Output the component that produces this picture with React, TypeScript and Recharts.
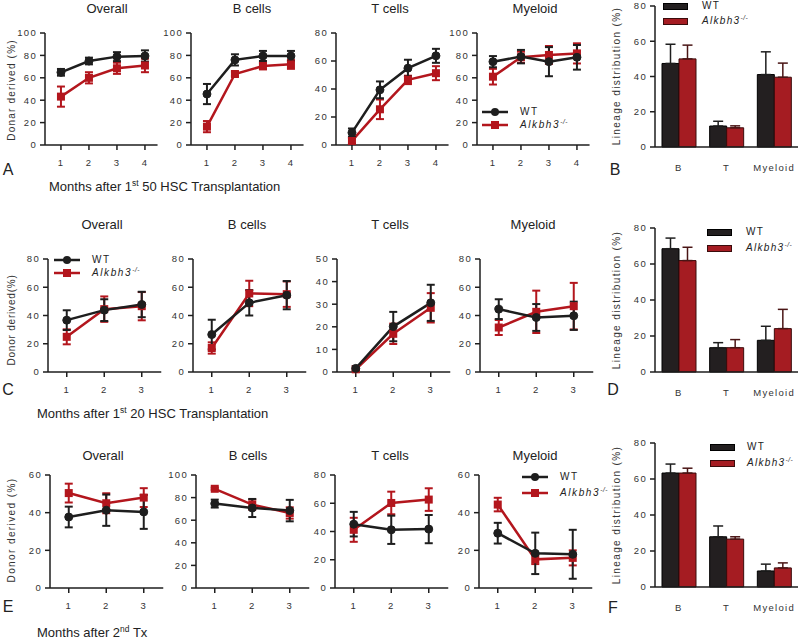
import React from 'react';
import { LineChart, Line, XAxis, YAxis, ErrorBar, BarChart, Bar } from 'recharts';

const BLACK = '#1e1e1e';
const RED = '#b3161d';
const BAR_BLACK = '#231f20';
const BAR_RED = '#a51c22';
const FONT = '"Liberation Sans", Arial, Helvetica, sans-serif';

// x categories
const months4 = [1, 2, 3, 4];
const months3 = [1, 2, 3];
const lineages = ['B', 'T', 'Myeloid'];

// ---- A: months after 1st 50 HSC transplantation ----
const aOverallWT = [64.9, 75, 78.9, 79.5];
const aOverallWTErr = [3, 3, 4, 5];
const aOverallKO = [43.2, 60, 68.5, 71];
const aOverallKOErr = [9, 5, 5, 6];
const aBWT = [45.5, 76, 79.5, 79.5];
const aBWTErr = [9, 5, 4.5, 4.5];
const aBKO = [16.4, 63.4, 70.5, 72];
const aBKOErr = [5, 2, 3, 4];
const aTWT = [8.8, 39.4, 54.9, 63.7];
const aTWTErr = [3, 6, 6, 5];
const aTKO = [2.9, 25.5, 46.5, 51.3];
const aTKOErr = [2, 7, 3, 5];
const aMyWT = [74.4, 78.9, 74.4, 78.3];
const aMyWTErr = [5, 6, 13, 11];
const aMyKO = [61, 78.3, 80.4, 81.8];
const aMyKOErr = [7, 5, 8, 9];
// ---- B: lineage distribution ----
const bWT = [47.4, 11.9, 41.1];
const bWTErr = [10.9, 2.7, 12.9];
const bKO = [50, 10.9, 39.6];
const bKOErr = [7.8, 1.1, 8];

// ---- C: months after 1st 20 HSC transplantation ----
const cOverallWT = [36.7, 43.8, 47.8];
const cOverallWTErr = [7, 7.7, 9];
const cOverallKO = [24.9, 44.5, 46.6];
const cOverallKOErr = [5.3, 9, 10];
const cBWT = [26.5, 49, 54.4];
const cBWTErr = [10.5, 9, 10];
const cBKO = [17, 55.6, 55.1];
const cBKOErr = [4, 9, 9];
const cTWT = [1.6, 20.1, 30.6];
const cTWTErr = [1, 6.5, 8];
const cTKO = [1.2, 16.9, 28.4];
const cTKOErr = [0.5, 4.5, 6.5];
const cMyWT = [44.5, 38.6, 39.8];
const cMyWTErr = [7, 9.5, 10];
const cMyKO = [31.5, 42.6, 46.6];
const cMyKOErr = [5.3, 15, 16.5];
// ---- D ----
const dWT = [68.5, 13.5, 17.6];
const dWTErr = [5.9, 2.8, 7.8];
const dKO = [61.9, 13.5, 24.1];
const dKOErr = [7.4, 4.5, 10.7];

// ---- E: months after 2nd Tx ----
const eOverallWT = [37.7, 41.3, 40.4];
const eOverallWTErr = [5.5, 8.3, 9];
const eOverallKO = [50.4, 45, 48];
const eOverallKOErr = [5, 5.3, 5];
const eBWT = [74.7, 70.8, 68.5];
const eBWTErr = [3.5, 8, 9.5];
const eBKO = [87.8, 73.8, 66.4];
const eBKOErr = [1, 4.5, 5];
const eTWT = [45.2, 41.2, 41.7];
const eTWTErr = [8.7, 10, 10];
const eTKO = [41.2, 60.2, 62.6];
const eTKOErr = [8.5, 8, 8];
const eMyWT = [29.1, 18.4, 17.9];
const eMyWTErr = [5.5, 11, 13];
const eMyKO = [44.3, 15.2, 16];
const eMyKOErr = [3.6, 2.5, 4];
// ---- F ----
const fWT = [63.3, 27.9, 8.9];
const fWTErr = [5, 6, 3.8];
const fKO = [63.3, 26.6, 10.6];
const fKOErr = [2.7, 1.3, 2.8];

// axis ticks
const ticks100 = [0, 20, 40, 60, 80, 100];
const ticks80 = [0, 20, 40, 60, 80];
const ticks60 = [0, 20, 40, 60];
const ticks50 = [0, 10, 20, 30, 40, 50];

const lineRows = (x: number[], wt: number[], wtE: number[], ko: number[], koE: number[]) =>
  x.map((m, i) => ({ m, wt: wt[i], wtE: wtE[i], ko: ko[i], koE: koE[i] }));
const barRows = (wt: number[], wtE: number[], ko: number[], koE: number[]) =>
  lineages.map((cat, i) => ({ cat, wt: wt[i], wtE: [0, wtE[i]], ko: ko[i], koE: [0, koE[i]] }));

const YW = 34;
const MT = 10;
const MR = 12;
const XH = 30;

const tickStyle = { fontSize: 9.5, fill: '#333', fontFamily: FONT };

function SquareDot(props: any) {
  const { cx, cy } = props;
  if (cx == null || cy == null) return null;
  return <rect x={cx - 4} y={cy - 4} width={8} height={8} fill={RED} />;
}

function LinePanel(p: {
  data: any[]; left: number; top: number; height: number; domain: [number, number]; pxPerUnit: number;
  xTicks: number[]; yMax: number; yTicks: number[];
}) {
  const width = (p.domain[1] - p.domain[0]) * p.pxPerUnit;
  return (
    <div style={{ position: 'absolute', left: p.left - YW, top: p.top - MT }}>
      <LineChart width={YW + width + MR} height={MT + p.height + XH} data={p.data}
        margin={{ top: MT, right: MR, bottom: 0, left: 0 }}>
        <XAxis dataKey="m" type="number" domain={p.domain} ticks={p.xTicks} interval={0} height={XH}
          tickSize={5} tickMargin={9} stroke={BLACK} strokeWidth={1.5} tick={tickStyle} />
        <YAxis type="number" domain={[0, p.yMax]} ticks={p.yTicks} interval={0} width={YW}
          tickSize={5} tickMargin={3} stroke={BLACK} strokeWidth={1.5} tick={tickStyle} />
        <Line dataKey="ko" stroke={RED} strokeWidth={2.5} isAnimationActive={false}
          dot={(d: any) => <SquareDot key={`k${d.index}`} cx={d.cx} cy={d.cy} />}>
          <ErrorBar dataKey="koE" width={4} strokeWidth={2} stroke={RED} />
        </Line>
        <Line dataKey="wt" stroke={BLACK} strokeWidth={2.5} isAnimationActive={false}
          dot={{ r: 4, fill: BLACK, stroke: BLACK, strokeWidth: 1 }}>
          <ErrorBar dataKey="wtE" width={4} strokeWidth={2} stroke={BLACK} />
        </Line>
      </LineChart>
    </div>
  );
}

function BarPanel(p: { data: any[]; left: number; top: number; width: number; height: number }) {
  return (
    <div style={{ position: 'absolute', left: p.left - YW, top: p.top - MT }}>
      <BarChart width={YW + p.width + 2} height={MT + p.height + XH} data={p.data}
        margin={{ top: MT, right: 2, bottom: 0, left: 0 }} barGap={0} barCategoryGap={7}>
        <XAxis dataKey="cat" height={XH} tickLine={false} tickMargin={11} stroke={BLACK} strokeWidth={1.5}
          tick={tickStyle} interval={0} />
        <YAxis type="number" domain={[0, 80]} ticks={ticks80} interval={0} width={YW}
          tickSize={5} tickMargin={3} stroke={BLACK} strokeWidth={1.5} tick={tickStyle} />
        <Bar dataKey="wt" fill={BAR_BLACK} stroke="#000" strokeWidth={1} isAnimationActive={false}>
          <ErrorBar dataKey="wtE" width={5} strokeWidth={1.5} stroke={BLACK} />
        </Bar>
        <Bar dataKey="ko" fill={BAR_RED} stroke="#3a0c0c" strokeWidth={1} isAnimationActive={false}>
          <ErrorBar dataKey="koE" width={5} strokeWidth={1.5} stroke="#4a1515" />
        </Bar>
      </BarChart>
    </div>
  );
}

function Txt(p: { x: number; y: number; size?: number; anchor?: 'start' | 'middle'; spacing?: number; children: any }) {
  const tx = p.anchor === 'start' ? '0' : '-50%';
  return (
    <div style={{
      position: 'absolute', left: p.x, top: p.y, transform: `translate(${tx}, -50%)`,
      fontSize: p.size ?? 13, lineHeight: 1, whiteSpace: 'nowrap', letterSpacing: p.spacing ?? 0, color: '#222',
    }}>{p.children}</div>
  );
}

function VTxt(p: { x: number; y: number; size?: number; spacing?: number; children: any }) {
  return (
    <div style={{
      position: 'absolute', left: p.x, top: p.y, transform: 'translate(-50%, -50%) rotate(-90deg)',
      fontSize: p.size ?? 10, lineHeight: 1, whiteSpace: 'nowrap', letterSpacing: p.spacing ?? 1, color: '#333',
    }}>{p.children}</div>
  );
}

const sup: React.CSSProperties = { fontSize: '0.65em', position: 'relative', top: '-0.55em' };

const KOName = () => (
  <span><i>Alkbh3</i><span style={{ fontSize: '0.65em', position: 'relative', top: '-0.6em', fontStyle: 'italic', letterSpacing: 0.6 }}>-/-</span></span>
);

function LineLegend(p: { x: number; y: number; gap: number; textX: number }) {
  return (
    <>
      <svg style={{ position: 'absolute', left: p.x, top: p.y - 6 }} width={26} height={12}>
        <line x1={0} y1={6} x2={26} y2={6} stroke={BLACK} strokeWidth={2.5} />
        <circle cx={13} cy={6} r={4} fill={BLACK} />
      </svg>
      <svg style={{ position: 'absolute', left: p.x, top: p.y + p.gap - 6 }} width={26} height={12}>
        <line x1={0} y1={6} x2={26} y2={6} stroke={RED} strokeWidth={2.5} />
        <rect x={9} y={2} width={8} height={8} fill={RED} />
      </svg>
      <Txt x={p.textX} y={p.y} size={10} anchor="start" spacing={1.6}>WT</Txt>
      <Txt x={p.textX} y={p.y + p.gap} size={10} anchor="start" spacing={1.6}><KOName /></Txt>
    </>
  );
}

function BarLegend(p: { x: number; y: number; gap: number; textX: number }) {
  return (
    <>
      <div style={{ position: 'absolute', left: p.x, top: p.y - 3.5, width: 25, height: 7, background: BAR_BLACK, border: '1px solid #000', boxSizing: 'border-box' }} />
      <div style={{ position: 'absolute', left: p.x, top: p.y + p.gap - 3.5, width: 25, height: 7, background: BAR_RED, border: '1px solid #3a0c0c', boxSizing: 'border-box' }} />
      <Txt x={p.textX} y={p.y} size={10} anchor="start" spacing={1.3}>WT</Txt>
      <Txt x={p.textX} y={p.y + p.gap} size={10} anchor="start" spacing={1.3}><KOName /></Txt>
    </>
  );
}

const D4: [number, number] = [0.43, 4.45];
const D3: [number, number] = [0.5, 3.52];

export default function App() {
  return (
    <div style={{ position: 'absolute', left: 0, top: 0, width: 800, height: 638, background: '#fff', fontFamily: FONT, overflow: 'hidden' }}>
      <style>{`.recharts-cartesian-axis-tick-value{letter-spacing:1.3px}`}</style>

      {/* Row A */}
      <Txt x={107} y={8}>Overall</Txt>
      <Txt x={252} y={8}>B cells</Txt>
      <Txt x={390} y={8}>T cells</Txt>
      <Txt x={535} y={8}>Myeloid</Txt>
      <VTxt x={12} y={90} size={10} spacing={1.2}>Donar derived (%)</VTxt>
      <LinePanel data={lineRows(months4, aOverallWT, aOverallWTErr, aOverallKO, aOverallKOErr)} left={45} top={33} height={112} domain={D4} pxPerUnit={28} xTicks={months4} yMax={100} yTicks={ticks100} />
      <LinePanel data={lineRows(months4, aBWT, aBWTErr, aBKO, aBKOErr)} left={191} top={33} height={112} domain={D4} pxPerUnit={28} xTicks={months4} yMax={100} yTicks={ticks100} />
      <LinePanel data={lineRows(months4, aTWT, aTWTErr, aTKO, aTKOErr)} left={336} top={33} height={112} domain={D4} pxPerUnit={28} xTicks={months4} yMax={80} yTicks={ticks80} />
      <LinePanel data={lineRows(months4, aMyWT, aMyWTErr, aMyKO, aMyKOErr)} left={477} top={33} height={112} domain={D4} pxPerUnit={28} xTicks={months4} yMax={100} yTicks={ticks100} />
      <LineLegend x={482} y={112} gap={13} textX={520} />
      <VTxt x={617} y={76} size={10} spacing={1.4}>Lineage distribution (%)</VTxt>
      <BarPanel data={barRows(bWT, bWTErr, bKO, bKOErr)} left={655} top={6} width={143} height={141} />
      <BarLegend x={663} y={6} gap={15} textX={702} />
      <Txt x={8} y={170} size={16} anchor="middle">A</Txt>
      <Txt x={615} y={170} size={16} anchor="middle">B</Txt>
      <Txt x={49} y={186} anchor="start">Months after 1<span style={sup}>st</span> 50 HSC Transplantation</Txt>

      {/* Row C */}
      <Txt x={102} y={224}>Overall</Txt>
      <Txt x={247} y={224}>B cells</Txt>
      <Txt x={390} y={224}>T cells</Txt>
      <Txt x={533} y={224}>Myeloid</Txt>
      <VTxt x={12} y={320} size={10} spacing={0.8}>Donor derived(%)</VTxt>
      <LinePanel data={lineRows(months3, cOverallWT, cOverallWTErr, cOverallKO, cOverallKOErr)} left={48} top={259} height={113} domain={D3} pxPerUnit={37.5} xTicks={months3} yMax={80} yTicks={ticks80} />
      <LinePanel data={lineRows(months3, cBWT, cBWTErr, cBKO, cBKOErr)} left={193} top={259} height={113} domain={D3} pxPerUnit={37.5} xTicks={months3} yMax={80} yTicks={ticks80} />
      <LinePanel data={lineRows(months3, cTWT, cTWTErr, cTKO, cTKOErr)} left={337} top={259} height={113} domain={D3} pxPerUnit={37.5} xTicks={months3} yMax={50} yTicks={ticks50} />
      <LinePanel data={lineRows(months3, cMyWT, cMyWTErr, cMyKO, cMyKOErr)} left={480} top={259} height={113} domain={D3} pxPerUnit={37.5} xTicks={months3} yMax={80} yTicks={ticks80} />
      <LineLegend x={54} y={260} gap={13} textX={92} />
      <VTxt x={617} y={300} size={10} spacing={1.4}>Lineage distribution (%)</VTxt>
      <BarPanel data={barRows(dWT, dWTErr, dKO, dKOErr)} left={655} top={228} width={143} height={144} />
      <BarLegend x={707} y={232} gap={16} textX={746} />
      <Txt x={8} y={390} size={16}>C</Txt>
      <Txt x={613} y={390} size={16}>D</Txt>
      <Txt x={37} y={413} anchor="start">Months after 1<span style={sup}>st</span> 20 HSC Transplantation</Txt>

      {/* Row E */}
      <Txt x={103} y={455}>Overall</Txt>
      <Txt x={248} y={455}>B cells</Txt>
      <Txt x={390} y={455}>T cells</Txt>
      <Txt x={535} y={455}>Myeloid</Txt>
      <VTxt x={12} y={530} size={10} spacing={1.4}>Donor derived (%)</VTxt>
      <LinePanel data={lineRows(months3, eOverallWT, eOverallWTErr, eOverallKO, eOverallKOErr)} left={50} top={475} height={113} domain={D3} pxPerUnit={37.5} xTicks={months3} yMax={60} yTicks={ticks60} />
      <LinePanel data={lineRows(months3, eBWT, eBWTErr, eBKO, eBKOErr)} left={196} top={475} height={113} domain={D3} pxPerUnit={37.5} xTicks={months3} yMax={100} yTicks={ticks100} />
      <LinePanel data={lineRows(months3, eTWT, eTWTErr, eTKO, eTKOErr)} left={335} top={475} height={113} domain={D3} pxPerUnit={37.5} xTicks={months3} yMax={80} yTicks={ticks80} />
      <LinePanel data={lineRows(months3, eMyWT, eMyWTErr, eMyKO, eMyKOErr)} left={479} top={475} height={113} domain={D3} pxPerUnit={37.5} xTicks={months3} yMax={60} yTicks={ticks60} />
      <LineLegend x={522} y={477} gap={16} textX={560} />
      <VTxt x={617} y={515} size={10} spacing={1.4}>Lineage distribution (%)</VTxt>
      <BarPanel data={barRows(fWT, fWTErr, fKO, fKOErr)} left={655} top={443} width={143} height={144} />
      <BarLegend x={710} y={447} gap={16} textX={747} />
      <Txt x={8} y={607} size={16}>E</Txt>
      <Txt x={613} y={608} size={16}>F</Txt>
      <Txt x={37} y={632} anchor="start">Months after 2<span style={sup}>nd</span> Tx</Txt>
    </div>
  );
}
